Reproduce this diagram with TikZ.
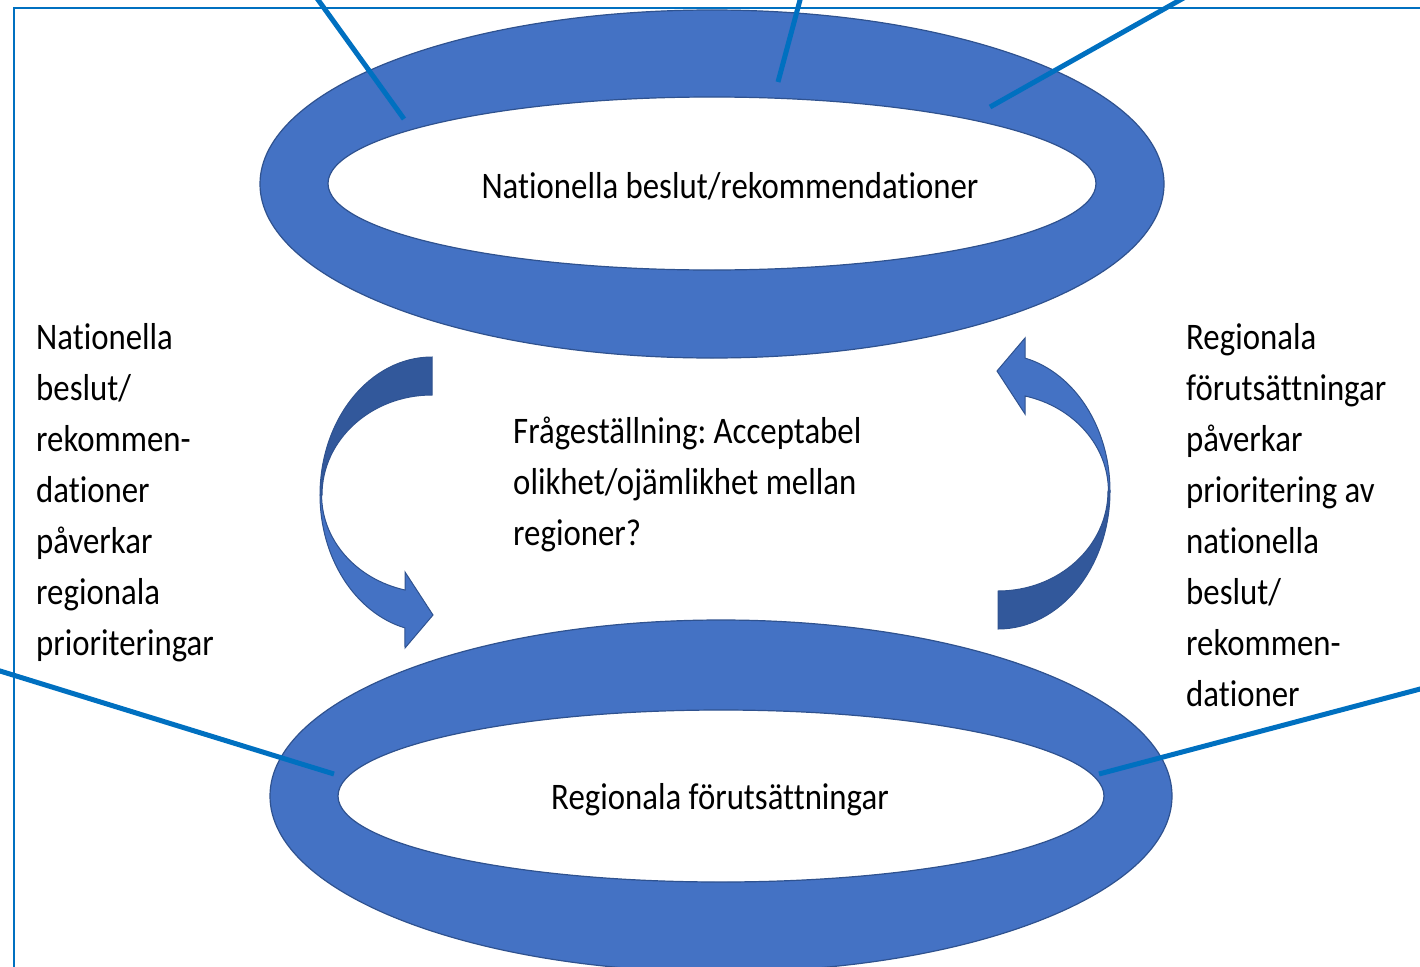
\documentclass[tikz,border=0pt]{standalone}
\usepackage{fontspec}
\setmainfont{Carlito}[FakeStretch=0.875,Ligatures=NoCommon]
\frenchspacing
\definecolor{ringblue}{RGB}{68,114,196}
\definecolor{ringedge}{RGB}{47,82,143}
\definecolor{arrowdark}{RGB}{50,88,155}
\definecolor{lineblue}{RGB}{0,112,192}
\tikzset{
  ring/.style={fill=ringblue,draw=ringedge,line width=1.2pt,even odd rule},
  spoke/.style={draw=lineblue,line width=5pt},
  txt/.style={font=\fontsize{37.5}{51}\selectfont,inner sep=0pt,align=left}
}

\begin{document}
\begin{tikzpicture}[x=1pt,y=-1pt]
\def\ax{432}
\def\ay{495}
\useasboundingbox (0,0) rectangle (1420,966);
\clip (0,0) rectangle (1420,966);

% frame
\draw[lineblue,line width=2pt] (13.5,970) -- (13.5,8) -- (1425,8);

% rings
\path[ring] (712,184) ellipse [x radius=452,y radius=174]
  (712,183.5) ellipse [x radius=384,y radius=86.5];
\path[ring] (721,796) ellipse [x radius=451,y radius=176]
  (721,796) ellipse [x radius=383,y radius=86];

% curved arrows, the second one turned round
\foreach \r in {0,180}
{
\begin{scope}[rotate around={\r:(715,493)}]
\path[fill=arrowdark,draw=ringedge,line width=1pt]
  (\ax,357) arc[start angle=-90,end angle=-180,x radius=112,y radius=138]
  -- (322,\ay) arc[start angle=180,end angle=270,x radius=110,y radius=100] -- cycle;
\path[fill=ringblue,draw=ringedge,line width=1pt]
  (320,\ay) arc[start angle=180,end angle=104,x radius=112,y radius=137]
  -- (405,648) -- (433,615) -- (405,572) -- (405,590)
  arc[start angle=104,end angle=180,x radius=110,y radius=98] -- cycle;
\end{scope}
}

% spokes
\coordinate (nat1) at (404,119);
\coordinate (nat2) at (778,82);
\coordinate (nat3) at (990,107);
\coordinate (reg1) at (334,774);
\coordinate (reg2) at (1099,774);
\coordinate (out1) at (311,-10);
\coordinate (out2) at (802.7,-10);
\coordinate (out3) at (1197.8,-10);
\coordinate (out4) at (-10,667.9);
\coordinate (out5) at (1430,686.4);

\draw[spoke] (nat1) -- (out1);
\draw[spoke] (nat2) -- (out2);
\draw[spoke] (nat3) -- (out3);
\draw[spoke] (reg1) -- (out4);
\draw[spoke] (reg2) -- (out5);

% texts (base = last line)
\node[txt,anchor=base] (nat) at (730,198) {Nationella beslut/rekommendationer};
\node[txt,anchor=base] (reg) at (720,809) {Regionala förutsättningar};
\node[txt,anchor=base west] (fraga) at (513,545)
  {Frågeställning: Acceptabel\\olikhet/ojämlikhet mellan\\regioner?};
\node[txt,anchor=base west] (natreg) at (36,655)
  {Nationella\\beslut/\\rekommen-\\dationer\\påverkar\\regionala\\prioriteringar};
\node[txt,anchor=base west] (regnat) at (1186,706)
  {Regionala\\förutsättningar\\påverkar\\prioritering av\\nationella\\beslut/\\rekommen-\\dationer};

\end{tikzpicture}
\end{document}
